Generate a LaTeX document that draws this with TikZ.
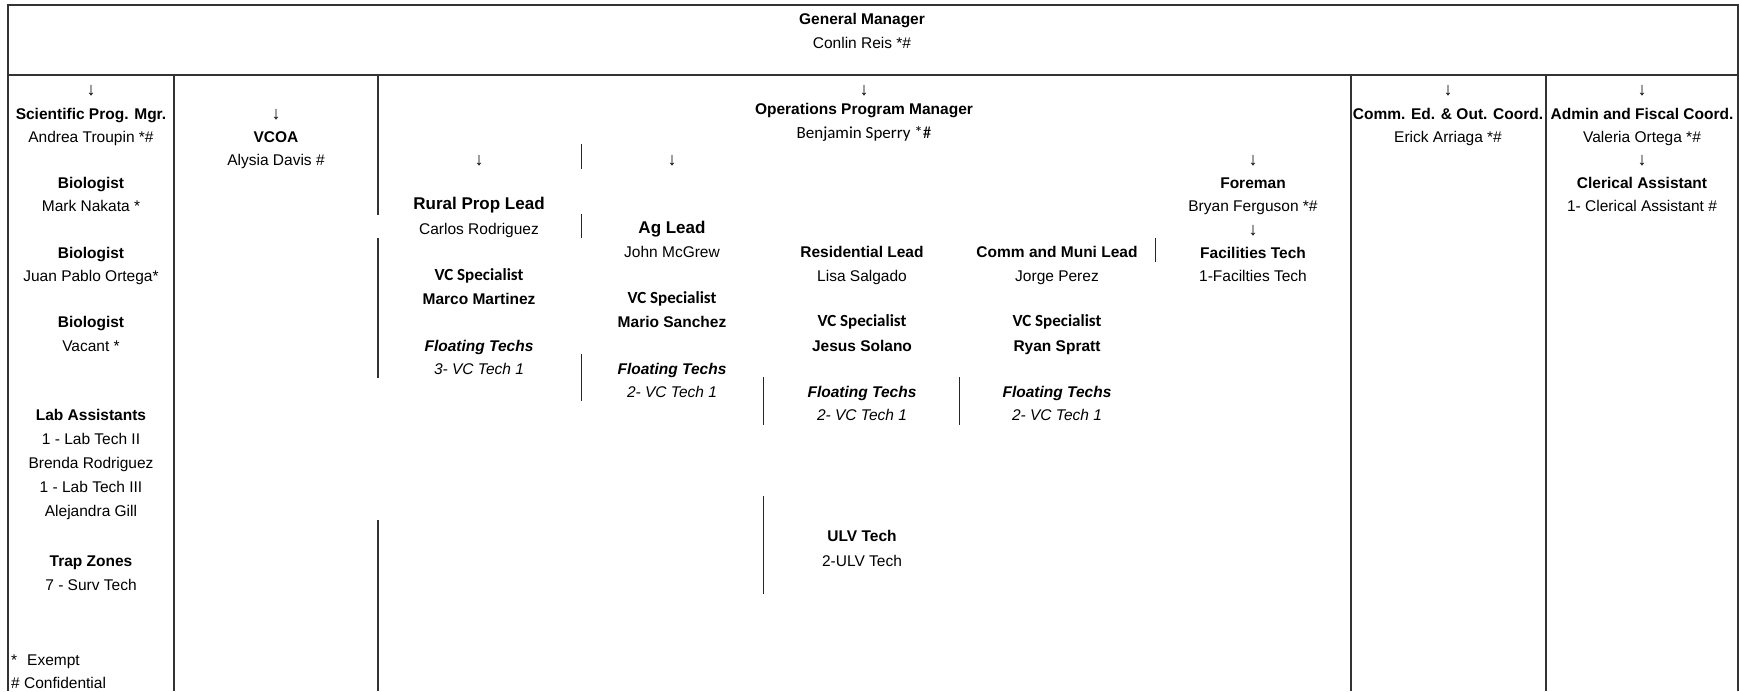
\documentclass[tikz,border=0pt]{standalone}
\usepackage{fontspec}
\setmainfont{Liberation Sans}
\newfontfamily\carl{Carlito}
\begin{document}
\begin{tikzpicture}[x=1pt,y=-1pt,
  base/.style={anchor=mid,inner sep=0pt,yshift=-3.3pt},
  txt/.style={base,font=\fontsize{15.5}{18}\selectfont},
  arw/.style={base,font=\fontsize{18}{20}\selectfont},
  hd/.style={base,font=\fontsize{15.5}{18}\selectfont\bfseries},
  big/.style={base,font=\fontsize{17}{20}\selectfont\bfseries},
  cb/.style={base,font=\fontsize{17}{20}\selectfont\carl\bfseries},
  cr/.style={base,font=\fontsize{17}{20}\selectfont\carl},
  itx/.style={base,font=\fontsize{15.5}{18}\selectfont\itshape},
  bix/.style={base,font=\fontsize{15.5}{18}\selectfont\bfseries\itshape},
  leg/.style={anchor=mid west,inner sep=0pt,yshift=-3.3pt,font=\fontsize{15.5}{18}\selectfont},
  frame/.style={draw=black!80,line width=1.3pt},
  seg/.style={draw=black!85,line width=1pt}]
\useasboundingbox (0,0) rectangle (1739,691);
% table frame
\draw[frame] (8,691) -- (8,5) -- (1738,5) -- (1738,691);
\draw[frame] (8,75) -- (1738,75);
\draw[frame] (174,75) -- (174,691);
\draw[frame] (1351,75) -- (1351,691);
\draw[frame] (1546,75) -- (1546,691);
\draw[frame] (378,75) -- (378,215);
\draw[frame] (378,238) -- (378,378);
\draw[frame] (378,520) -- (378,691);
% inner segments
\draw[seg] (581,144) -- (581,169);
\draw[seg] (581,214) -- (581,238);
\draw[seg] (581,354) -- (581,401);
\draw[seg] (763,377) -- (763,425);
\draw[seg] (763,496) -- (763,594);
\draw[seg] (959,377) -- (959,425);
\draw[seg] (1155,238) -- (1155,262);
% general manager
\node[hd] (gm) at (862,19) {General Manager};
\node[txt] (gmn) at (862,43) {Conlin Reis *\#};
% column 1
\node[arw] (a1) at (91,90) {↓};
\node[hd] (spm) at (91,114) {Scientific Prog. Mgr.};
\node[txt] (spmn) at (91,137) {Andrea Troupin *\#};
\node[hd] (b1) at (91,183) {Biologist};
\node[txt] (b1n) at (91,206) {Mark Nakata *};
\node[hd] (b2) at (91,253) {Biologist};
\node[txt] (b2n) at (91,276) {Juan Pablo Ortega*};
\node[hd] (b3) at (91,322) {Biologist};
\node[txt] (b3n) at (91,346) {Vacant *};
\node[hd] (la) at (91,415) {Lab Assistants};
\node[txt] (la1) at (91,439) {1 - Lab Tech II};
\node[txt] (la2) at (91,463) {Brenda Rodriguez};
\node[txt] (la3) at (91,487) {1 - Lab Tech III};
\node[txt] (la4) at (91,511) {Alejandra Gill};
\node[hd] (tz) at (91,561) {Trap Zones};
\node[txt] (tzn) at (91,585) {7 - Surv Tech};
\node[leg] (le1) at (11,660) {*};
\node[leg] (le1b) at (27,660) {Exempt};
\node[leg] (le2) at (11,683) {\# Confidential};
% column 2
\node[arw] (a2) at (276,114) {↓};
\node[hd] (vcoa) at (276,137) {VCOA};
\node[txt] (vcoan) at (276,160) {Alysia Davis \#};
% operations
\node[arw] (a3) at (864,90) {↓};
\node[hd] (opm) at (864,109) {Operations Program Manager};
\node[cr] (opmn) at (864,133) {Benjamin Sperry *\#};
% rural
\node[arw] (ar) at (479,160) {↓};
\node[big] (rpl) at (479,204) {Rural Prop Lead};
\node[txt] (rpln) at (479,229) {Carlos Rodriguez};
\node[cb] (rvs) at (479,275) {VC Specialist};
\node[hd] (rvsn) at (479,299) {Marco Martinez};
\node[bix] (rft) at (479,346) {Floating Techs};
\node[itx] (rftn) at (479,369) {3- VC Tech 1};
% ag
\node[arw] (aa) at (672,160) {↓};
\node[big] (agl) at (672,228) {Ag Lead};
\node[txt] (agln) at (672,252) {John McGrew};
\node[cb] (avs) at (672,298) {VC Specialist};
\node[hd] (avsn) at (672,322) {Mario Sanchez};
\node[bix] (aft) at (672,369) {Floating Techs};
\node[itx] (aftn) at (672,392) {2- VC Tech 1};
% residential
\node[hd] (rl) at (862,252) {Residential Lead};
\node[txt] (rln) at (862,276) {Lisa Salgado};
\node[cb] (rsv) at (862,321) {VC Specialist};
\node[hd] (rsvn) at (862,346) {Jesus Solano};
\node[bix] (rsf) at (862,392) {Floating Techs};
\node[itx] (rsfn) at (862,415) {2- VC Tech 1};
\node[hd] (ulv) at (862,536) {ULV Tech};
\node[txt] (ulvn) at (862,561) {2-ULV Tech};
% comm and muni
\node[hd] (cml) at (1057,252) {Comm and Muni Lead};
\node[txt] (cmln) at (1057,276) {Jorge Perez};
\node[cb] (cmv) at (1057,321) {VC Specialist};
\node[hd] (cmvn) at (1057,346) {Ryan Spratt};
\node[bix] (cmf) at (1057,392) {Floating Techs};
\node[itx] (cmfn) at (1057,415) {2- VC Tech 1};
% foreman
\node[arw] (af) at (1253,160) {↓};
\node[hd] (fm) at (1253,183) {Foreman};
\node[txt] (fmn) at (1253,206) {Bryan Ferguson *\#};
\node[arw] (af2) at (1253,230) {↓};
\node[hd] (ft) at (1253,253) {Facilities Tech};
\node[txt] (ftn) at (1253,276) {1-Facilties Tech};
% comm ed
\node[arw] (a4) at (1448,90) {↓};
\node[hd] (ce) at (1448,114) {Comm. Ed. \& Out. Coord.};
\node[txt] (cen) at (1448,137) {Erick Arriaga *\#};
% admin
\node[arw] (a5) at (1642,90) {↓};
\node[hd] (af5) at (1642,114) {Admin and Fiscal Coord.};
\node[txt] (af5n) at (1642,137) {Valeria Ortega *\#};
\node[arw] (a6) at (1642,160) {↓};
\node[hd] (ca) at (1642,183) {Clerical Assistant};
\node[txt] (can) at (1642,206) {1- Clerical Assistant \#};
\end{tikzpicture}
\end{document}
